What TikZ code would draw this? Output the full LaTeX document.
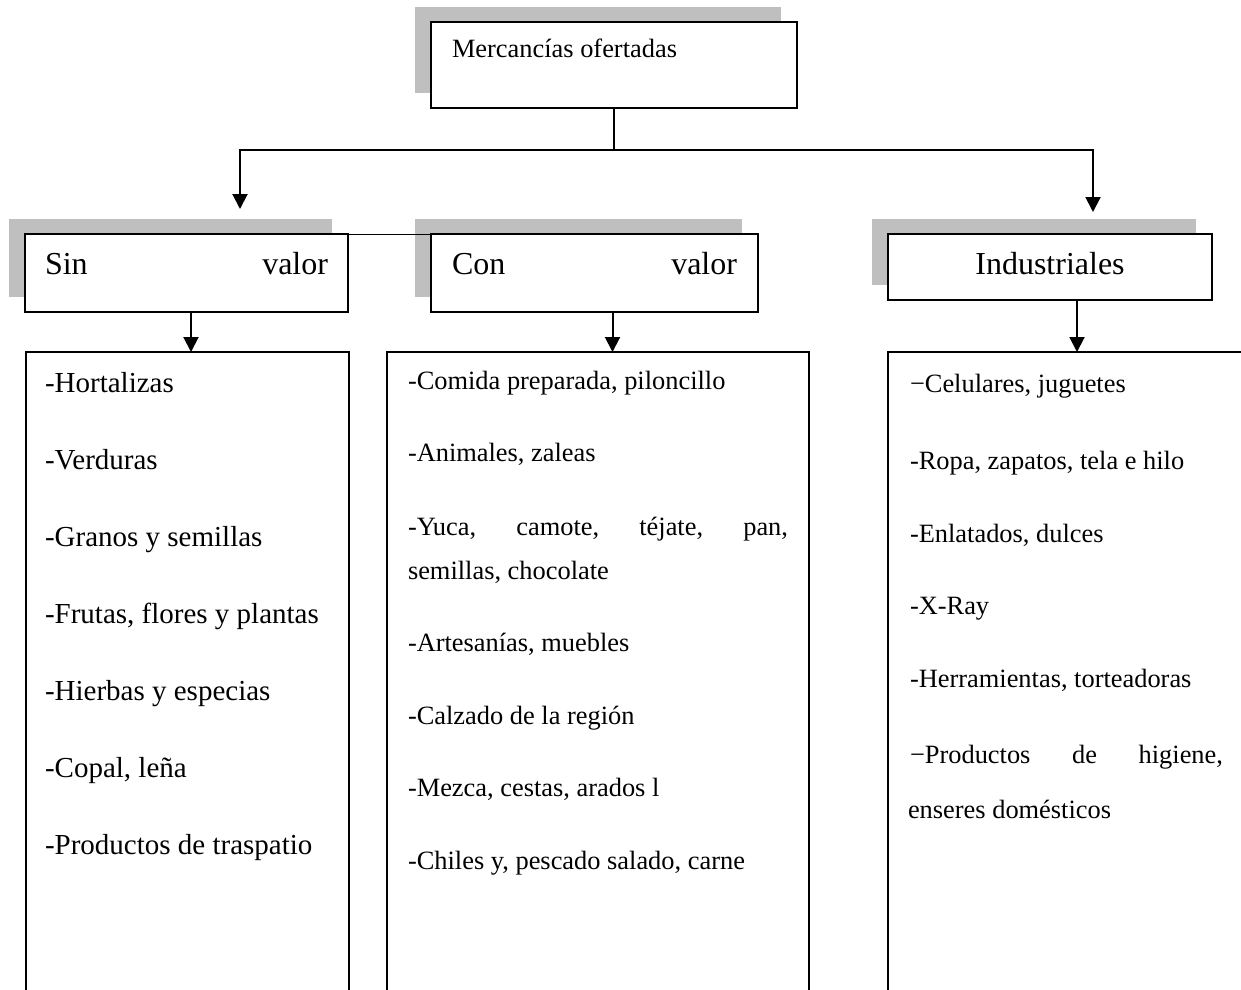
\documentclass[tikz,border=0pt]{standalone}
\usepackage{fontspec}
\setmainfont{Liberation Serif}
\usetikzlibrary{arrows.meta,shadows}

\begin{document}
\begin{tikzpicture}[x=1pt,y=-1pt,inner sep=0pt,outer sep=0pt,line width=1.8pt,
catbox/.style={draw,rectangle,fill=white,line width=1.8pt,drop shadow={shadow xshift=-16pt,shadow yshift=15pt,fill=black!25,opacity=1}},
listbox/.style={draw,rectangle,line width=1.8pt},
item/.style={anchor=base west,font=\fontsize{26.4}{32}\selectfont},
bigitem/.style={anchor=base west,font=\fontsize{29}{35}\selectfont},
head/.style={anchor=base west,font=\fontsize{32}{38}\selectfont},
arr/.style={-{Triangle[length=15pt,width=15pt]},line width=2pt}]

\useasboundingbox (0,0) rectangle (1241,989);
\clip (0,0) rectangle (1241,989);

\draw (187.5,701) node[listbox,minimum width=323pt,minimum height=698pt] (sinlist) {};
\draw (598,701) node[listbox,minimum width=422pt,minimum height=698pt] (conlist) {};
\draw (1079,701) node[listbox,minimum width=382pt,minimum height=698pt] (indlist) {};

\draw (614,65) node[catbox,minimum width=366pt,minimum height=86pt] (top) {};
\draw (186.5,273) node[catbox,minimum width=323pt,minimum height=78pt] (sin) {};
\draw (594.5,273) node[catbox,minimum width=327pt,minimum height=78pt] (con) {};
\draw (1050,267) node[catbox,minimum width=324pt,minimum height=66pt] (ind) {};

\node[item] (toptext) at (452,57) {Mercancías ofertadas};
\node[head] (sintext) at (45,274) {\makebox[283pt][s]{Sin valor}};
\node[head] (context) at (452,274) {\makebox[285pt][s]{Con valor}};
\node[head,anchor=base] (indtext) at (1050,274) {Industriales};

\coordinate (split) at (614,150);
\coordinate (sintip) at (240,209);
\coordinate (indtip) at (1093,212);
\draw (top.south) -- (split);
\draw[arr] (split) -| (sintip);
\draw[arr] (split) -| (indtip);
\draw[arr] ([xshift=4.5pt]sin.south) -- ([xshift=4.5pt]sin.south |- sinlist.north);
\draw[arr] ([xshift=18pt]con.south) -- ([xshift=18pt]con.south |- conlist.north);
\draw[arr] ([xshift=27pt]ind.south) -- ([xshift=27pt]ind.south |- indlist.north);
\draw[line width=0.8pt] (sin.north east) -- ([xshift=18pt]con.north);

% sin valor
\node[bigitem] (s1) at (45,392) {-Hortalizas};
\node[bigitem] (s2) at (45,469) {-Verduras};
\node[bigitem] (s3) at (45,546) {-Granos y semillas};
\node[bigitem] (s4) at (45,623) {-Frutas, flores y plantas};
\node[bigitem] (s5) at (45,700) {-Hierbas y especias};
\node[bigitem] (s6) at (45,777) {-Copal, leña};
\node[bigitem] (s7) at (45,854) {-Productos de traspatio};

% con valor
\node[item] (c1) at (408,389) {-Comida preparada, piloncillo};
\node[item] (c2) at (408,461) {-Animales, zaleas};
\node[item] (c3) at (408,535) {\makebox[380pt][s]{-Yuca, camote, téjate, pan,}};
\node[item] (c3b) at (408,579) {semillas, chocolate};
\node[item] (c4) at (408,651) {-Artesanías, muebles};
\node[item] (c5) at (408,724) {-Calzado de la región};
\node[item] (c6) at (408,796) {-Mezca, cestas, arados l};
\node[item] (c7) at (408,869) {-Chiles y, pescado salado, carne};

% industriales
\node[item] (i1) at (910,392) {−Celulares, juguetes};
\node[item] (i2) at (910,469) {-Ropa, zapatos, tela e hilo};
\node[item] (i3) at (910,542) {-Enlatados, dulces};
\node[item] (i4) at (910,614) {-X-Ray};
\node[item] (i5) at (910,687) {-Herramientas, torteadoras};
\node[item] (i6) at (910,763) {\makebox[313pt][s]{−Productos de higiene,}};
\node[item] (i6b) at (908,818) {enseres domésticos};
\end{tikzpicture}
\end{document}
